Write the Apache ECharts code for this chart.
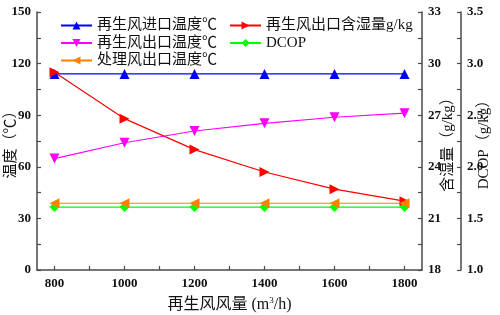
<!DOCTYPE html>
<html><head><meta charset="utf-8">
<script src="https://cdn.jsdelivr.net/npm/echarts@6/dist/echarts.min.js"></script>
<style>html,body{margin:0;padding:0;background:#fff}#c{width:500px;height:315px}</style>
</head><body><div id="c"></div>
<script>
var airflow = [800, 1000, 1200, 1400, 1600, 1800];
var regenInletTemp = [114, 114, 114, 114, 114, 114];
var regenOutletHumidity = [29.5, 26.8, 25.0, 23.7, 22.7, 22.0];
var regenOutletTemp = [64.8, 74.0, 80.8, 85.3, 88.8, 91.2];
var dcop = [1.61, 1.61, 1.61, 1.61, 1.61, 1.61];
var processOutletTemp = [38.8, 38.8, 38.8, 38.8, 38.8, 38.8];
var xLabels = [800, 1000, 1200, 1400, 1600, 1800];
var xTicks = [800, 900, 1000, 1100, 1200, 1300, 1400, 1500, 1600, 1700, 1800];

var FONT = '"Liberation Serif","Noto Sans CJK SC",serif';
var AX = '#4a4a4a';
function pairs(ys){ return airflow.map(function(x,i){ return [x, ys[i]]; }); }
function ax(extra){
  var base = {
    nameMoveOverlap:false,
    axisLine:{show:true,lineStyle:{color:AX,width:1.5}},
    axisTick:{show:true,inside:true,length:4,lineStyle:{color:AX,width:1.2}},
    minorTick:{show:true,splitNumber:2,length:4,lineStyle:{color:AX,width:1.2}},
    splitLine:{show:false},
    axisLabel:{color:'#111',fontFamily:FONT,fontSize:13,fontWeight:'bold',margin:6},
    nameTextStyle:{color:'#111',fontFamily:FONT,fontSize:15}
  };
  for (var k in extra) {
    if (typeof extra[k]==='object' && base[k] && !Array.isArray(extra[k])) {
      base[k] = Object.assign({}, base[k], extra[k]);
    } else base[k] = extra[k];
  }
  return base;
}
var chart = echarts.init(document.getElementById('c'), null, {renderer:'canvas'});
var option = {
  animation:false,
  grid:{left:37,right:78,top:12,bottom:45,containLabel:false,outerBoundsMode:'none'},
  legend:[
    {orient:'vertical',left:55,top:13,itemWidth:31,itemHeight:10,itemGap:2.5,
     textStyle:{fontFamily:FONT,fontSize:15,color:'#111',lineHeight:15},
     data:['再生风进口温度℃','再生风出口温度℃','处理风出口温度℃']},
    {orient:'vertical',left:224,top:13,itemWidth:31,itemHeight:10,itemGap:2.5,
     textStyle:{fontFamily:FONT,fontSize:15,color:'#111',lineHeight:15},
     data:['再生风出口含湿量g/kg','DCOP']}
  ],
  xAxis: ax({type:'value',min:750,max:1850,
    name:'{a|再生风风量 (m}{s|3}{a|/h)}',nameLocation:'middle',nameGap:26,
    nameTextStyle:{rich:{a:{fontFamily:FONT,fontSize:16,color:'#111'},s:{fontFamily:FONT,fontSize:9,color:'#111',verticalAlign:'top',padding:[0,0,8,0]}}},
    minorTick:{show:false},
    axisTick:{customValues:xTicks},
    axisLabel:{customValues:xLabels,margin:7,formatter:function(v){return String(v);}}
  }),
  yAxis:[
    ax({type:'value',min:0,max:150,interval:30,position:'left',
      name:'温度（℃）',nameLocation:'middle',nameGap:18,nameRotate:90}),
    ax({type:'value',min:18,max:33,interval:3,position:'right',
      name:'含湿量（g/kg）',nameLocation:'middle',nameGap:19,nameRotate:90}),
    ax({type:'value',min:1,max:3.5,interval:0.5,position:'right',offset:39,
      name:'DCOP（g/kg）',nameLocation:'middle',nameGap:16,nameRotate:90,
      axisLabel:{formatter:function(v){return v.toFixed(1);}}})
  ],
  series:[
    {name:'再生风进口温度℃',type:'line',yAxisIndex:0,data:pairs(regenInletTemp),
     symbol:'triangle',symbolSize:10,itemStyle:{color:'#0000ff'},lineStyle:{color:'#0000ff',width:1.2}},
    {name:'再生风出口含湿量g/kg',type:'line',yAxisIndex:1,data:pairs(regenOutletHumidity),
     symbol:'triangle',symbolRotate:-90,symbolSize:10,itemStyle:{color:'#ff0000'},lineStyle:{color:'#ff0000',width:1.2}},
    {name:'再生风出口温度℃',type:'line',yAxisIndex:0,data:pairs(regenOutletTemp),
     symbol:'triangle',symbolRotate:180,symbolSize:10,itemStyle:{color:'#ff00ff'},lineStyle:{color:'#ff00ff',width:1.2}},
    {name:'DCOP',type:'line',yAxisIndex:2,data:pairs(dcop),
     symbol:'diamond',symbolSize:10,itemStyle:{color:'#00ff00'},lineStyle:{color:'#00ff00',width:1.2}},
    {name:'处理风出口温度℃',type:'line',yAxisIndex:0,data:pairs(processOutletTemp),
     symbol:'triangle',symbolRotate:90,symbolSize:10,itemStyle:{color:'#ff8000'},lineStyle:{color:'#ff8000',width:1.2}}
  ]
};
chart.setOption(option);
</script></body></html>
